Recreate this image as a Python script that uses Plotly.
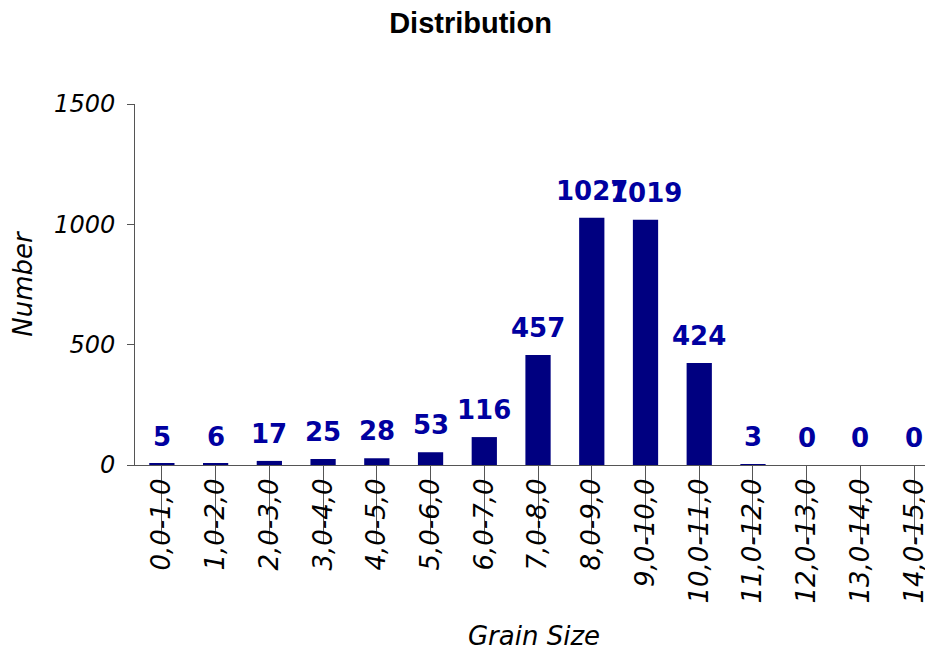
import plotly.graph_objects as go

categories = ["0,0-1,0", "1,0-2,0", "2,0-3,0", "3,0-4,0", "4,0-5,0", "5,0-6,0",
              "6,0-7,0", "7,0-8,0", "8,0-9,0", "9,0-10,0", "10,0-11,0",
              "11,0-12,0", "12,0-13,0", "13,0-14,0", "14,0-15,0"]
counts = [5, 6, 17, 25, 28, 53, 116, 457, 1027, 1019, 424, 3, 0, 0, 0]
y_ticks = [0, 500, 1000, 1500]

BAR = "#000080"
LABEL = "#0000A0"
AXIS = "#555555"

fig = go.Figure()
fig.add_trace(go.Bar(x=list(range(len(categories))), y=counts,
                     marker=dict(color=BAR, line=dict(width=0)),
                     hoverinfo="skip"))

for i, v in enumerate(counts):
    fig.add_annotation(x=i, y=v, text=str(v), showarrow=False,
                       yanchor="middle", yshift=27,
                       font=dict(family="DejaVu Sans", size=26, color=LABEL, weight="bold"))

fig.update_layout(
    width=925, height=645,
    margin=dict(l=127, r=0, t=96, b=188),
    plot_bgcolor="white", paper_bgcolor="white",
    bargap=0.53,
    showlegend=False,
    title=dict(text="Distribution", x=0.5, xanchor="center", y=0.993, yanchor="top",
               font=dict(family="Liberation Sans", size=29, color="black", weight="bold")),
    xaxis=dict(
        range=[-0.5, 14.35],
        tickmode="array", tickvals=list(range(len(categories))), ticktext=categories,
        tickangle=-90, tickson="boundaries", ticks="outside", ticklen=78,
        tickcolor=AXIS, tickwidth=1, ticklabelstandoff=-76,
        tickfont=dict(family="DejaVu Sans", size=26, color="black", style="italic"),
        showline=True, linecolor=AXIS, linewidth=1, showgrid=False, zeroline=False,
        title=dict(text="Grain Size", standoff=24,
                   font=dict(family="DejaVu Sans", size=26, color="black", style="italic")),
    ),
    yaxis=dict(
        range=[0, 1500], tickmode="array", tickvals=y_ticks,
        ticks="outside", ticklen=7, tickcolor=AXIS, tickwidth=1, ticklabelstandoff=7,
        tickfont=dict(family="DejaVu Sans", size=24, color="black", style="italic"),
        showline=True, linecolor=AXIS, linewidth=1, showgrid=False, zeroline=False,
        title=dict(text="Number", standoff=14,
                   font=dict(family="DejaVu Sans", size=26, color="black", style="italic")),
    ),
)

fig.write_html("out.html")
